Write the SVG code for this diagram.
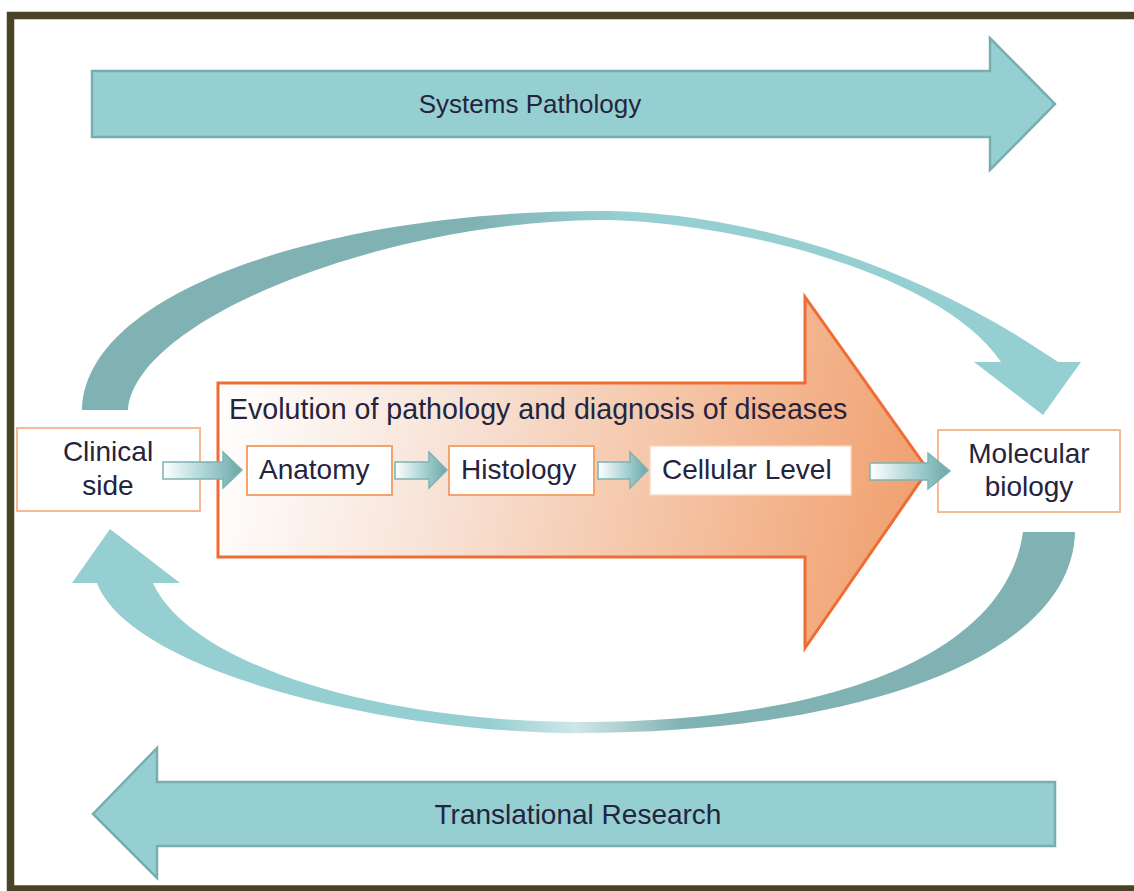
<svg xmlns="http://www.w3.org/2000/svg" width="1134" height="891" viewBox="0 0 1134 891">
  <defs>
    <linearGradient id="orangeGrad" gradientUnits="userSpaceOnUse" x1="218" y1="400" x2="928" y2="540">
      <stop offset="0" stop-color="#ffffff"/>
      <stop offset="0.3" stop-color="#f8e5da"/>
      <stop offset="0.7" stop-color="#f4bd9b"/>
      <stop offset="1" stop-color="#f09e6c"/>
    </linearGradient>
    <linearGradient id="smallArrowGrad" x1="0" y1="0" x2="1" y2="0">
      <stop offset="0" stop-color="#ffffff"/>
      <stop offset="0.55" stop-color="#a9d2d3"/>
      <stop offset="1" stop-color="#6aa7a9"/>
    </linearGradient>
    <linearGradient id="topArcGrad" gradientUnits="userSpaceOnUse" x1="470" y1="0" x2="620" y2="0">
      <stop offset="0" stop-color="#80b1b3"/>
      <stop offset="1" stop-color="#96cfd1"/>
    </linearGradient>
    <linearGradient id="bottomArcGrad" gradientUnits="userSpaceOnUse" x1="97" y1="0" x2="1075" y2="0">
      <stop offset="0" stop-color="#96cfd1"/>
      <stop offset="0.4" stop-color="#96cfd1"/>
      <stop offset="0.49" stop-color="#cfe6e7"/>
      <stop offset="0.6" stop-color="#80b1b3"/>
      <stop offset="1" stop-color="#80b1b3"/>
    </linearGradient>
  </defs>
  <style>
    .txt { font-family: "Liberation Sans", Arial, sans-serif; fill: #24243e; }
    .big { fill: #96cfd1; stroke: #79aeb0; stroke-width: 2.5; stroke-linejoin: miter; }
    .box { fill: #ffffff; stroke: #f7b993; stroke-width: 2; }
    .inbox { fill: #ffffff; stroke: #f3a46c; stroke-width: 2; }
    .small { fill: url(#smallArrowGrad); stroke: #7db2b4; stroke-width: 1.5; }
  </style>

  <rect x="0" y="0" width="1134" height="891" fill="#ffffff"/>
  <rect id="frame" x="10.5" y="15.5" width="1140" height="873.5" fill="none" stroke="#4a4328" stroke-width="7.5"/>

  <g id="systems-pathology">
    <polygon class="big" points="92,71 990,71 990,38 1055,104 990,170 990,137 92,137"/>
    <text class="txt" x="530" y="113" font-size="26" text-anchor="middle">Systems Pathology</text>
  </g>

  <g id="translational-research">
    <polygon class="big" points="1055,782 157,782 157,748 93,814 157,878 157,846 1055,846"/>
    <text class="txt" x="578" y="824" font-size="28" text-anchor="middle">Translational Research</text>
  </g>

  <g id="evolution">
    <polygon points="218,383 805,383 805,297 928,470 805,648 805,557 218,557" fill="url(#orangeGrad)" stroke="#ef6c35" stroke-width="3"/>
    <text class="txt" x="229" y="419" font-size="28.6">Evolution of pathology and diagnosis of diseases</text>
  </g>

  <g id="clinical-side">
    <rect class="box" x="17" y="428" width="183" height="83"/>
    <text class="txt" x="108" y="461" font-size="28" text-anchor="middle">Clinical</text>
    <text class="txt" x="108" y="495" font-size="28" text-anchor="middle">side</text>
  </g>

  <g id="anatomy">
    <rect class="inbox" x="247" y="446" width="145" height="49"/>
    <text class="txt" x="259" y="479" font-size="28">Anatomy</text>
  </g>

  <g id="histology">
    <rect class="inbox" x="449" y="446" width="145" height="49"/>
    <text class="txt" x="461" y="479" font-size="28">Histology</text>
  </g>

  <g id="cellular-level">
    <rect x="650" y="446" width="201" height="49" fill="#ffffff" stroke="#f8d9c6" stroke-width="1.5"/>
    <text class="txt" x="662" y="479" font-size="28">Cellular Level</text>
  </g>

  <g id="molecular-biology">
    <rect class="box" x="938" y="430" width="182" height="82"/>
    <text class="txt" x="1029" y="463" font-size="28" text-anchor="middle">Molecular</text>
    <text class="txt" x="1029" y="496" font-size="28" text-anchor="middle">biology</text>
  </g>

  <g id="connectors">
    <path id="arc-top" fill="url(#topArcGrad)" d="M 82,410 C 85,290 330,211 600,211 C 700,211 880,240 1058,362 L 1081,362 L 1043,415 L 974,362 L 1001,362 C 940,270 720,220 600,220 C 380,222 135,320 128,410 Z"/>
    <path id="arc-bottom" fill="url(#bottomArcGrad)" d="M 1023,532 L 1075,532 C 1072,660 850,733 580,733 C 380,733 130,670 97,583 L 72,583 L 110,529 L 180,583 L 153,583 C 190,665 380,722 580,722 C 820,722 1005,660 1023,532 Z"/>
    <polygon class="small" points="163,462 223,462 223,452 242,470 223,488 223,479 163,479"/>
    <polygon class="small" points="395,462 429,462 429,452 447,470 429,488 429,479 395,479"/>
    <polygon class="small" points="598,462 630,462 630,452 648,470 630,488 630,479 598,479"/>
    <polygon class="small" points="870,463 928,463 928,453 950,471 928,489 928,480 870,480"/>
  </g>
</svg>
